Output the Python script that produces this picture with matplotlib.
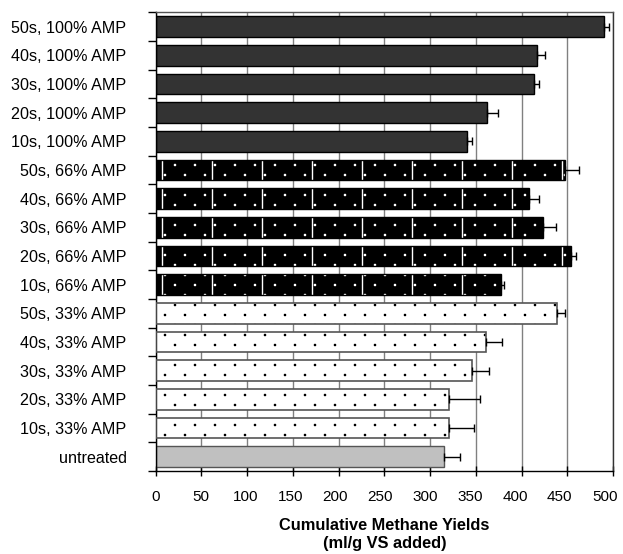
import numpy as np
import matplotlib
matplotlib.use("Agg")
import matplotlib.pyplot as plt
import matplotlib.hatch as mhatch
from matplotlib.path import Path
from matplotlib.transforms import ScaledTranslation

plt.rcParams['font.family'] = ['Liberation Sans', 'DejaVu Sans']
plt.rcParams['hatch.linewidth'] = 1.0

# treatments, top to bottom
labels = ["50s, 100% AMP", "40s, 100% AMP", "30s, 100% AMP", "20s, 100% AMP", "10s, 100% AMP",
          "50s, 66% AMP", "40s, 66% AMP", "30s, 66% AMP", "20s, 66% AMP", "10s, 66% AMP",
          "50s, 33% AMP", "40s, 33% AMP", "30s, 33% AMP", "20s, 33% AMP", "10s, 33% AMP",
          "untreated"]
amp100 = [490, 417, 414, 362, 340]
amp100_err = [6, 9, 5, 12, 6]
amp66 = [448, 408, 423, 454, 378]
amp66_err = [15, 11, 15, 6, 3]
amp33 = [439, 361, 346, 321, 321]
amp33_err = [9, 18, 18, 34, 27]
untreated = [315]
untreated_err = [18]

xticks = np.arange(0, 501, 50)


class SparseDots(mhatch.HatchPatternBase):
    # staggered small dots, 5 per row and 10 rows per hatch cell
    cols = 5
    rows = 10
    radius = 0.006

    def __init__(self, hatch, density):
        circ = Path.unit_circle()
        self.verts = circ.vertices
        self.vcodes = circ.codes
        self.n = hatch.count('.')
        self.num_vertices = self.n * self.cols * self.rows * len(self.verts)

    def set_vertices_and_codes(self, vertices, codes):
        vparts = []
        cparts = []
        for r in range(self.rows):
            y = (r + 0.5) / self.rows
            for c in range(self.cols):
                x = (c + 0.25 + 0.5 * (r % 2)) / self.cols
                vparts.append(self.verts * self.radius + [x, y])
                cparts.append(self.vcodes)
        np.concatenate(vparts, out=vertices)
        np.concatenate(cparts, out=codes)


class WideVertical(mhatch.HatchPatternBase):
    # two vertical lines per hatch cell
    def __init__(self, hatch, density):
        self.n = hatch.count('|')
        self.num_vertices = self.n * 2 * 2

    def set_vertices_and_codes(self, vertices, codes):
        xs = [0.125, 0.625]
        for i, x in enumerate(xs):
            vertices[2 * i] = [x, 0.0]
            vertices[2 * i + 1] = [x, 1.0]
            codes[2 * i] = Path.MOVETO
            codes[2 * i + 1] = Path.LINETO


mhatch._hatch_types = [SparseDots, WideVertical]

fig = plt.figure(figsize=(6.23, 5.54), dpi=100)
ax = fig.add_axes([0.250, 0.150, 0.734, 0.828])

pos = np.arange(len(labels))
h = 0.72
p100 = pos[0:5]
p66 = pos[5:10]
p33 = pos[10:15]
pu = pos[15:16]

ax.set_axisbelow(True)
ax.xaxis.grid(True, color='#808080', lw=1.0)

# 100% amplitude: solid dark grey
ax.barh(p100, amp100, height=h, color='#333333', edgecolor='black', lw=1.0, zorder=2)
# 66% amplitude: black with white dots and white vertical strokes
ax.barh(p66, amp66, height=h, color='black', edgecolor='white', hatch='.|', lw=0, zorder=2)
ax.barh(p66, amp66, height=h, fill=False, edgecolor='black', lw=1.0, zorder=3)
# 33% amplitude: white with black dots
ax.barh(p33, amp33, height=h, color='white', edgecolor='black', hatch='.', lw=0, zorder=2)
ax.barh(p33, amp33, height=h, fill=False, edgecolor='#555555', lw=1.2, zorder=3)
# untreated control
ax.barh(pu, untreated, height=h, color='#c0c0c0', edgecolor='#555555', lw=1.0, zorder=2)

vals = amp100 + amp66 + amp33 + untreated
errs = amp100_err + amp66_err + amp33_err + untreated_err
ax.errorbar(vals, pos, xerr=[np.zeros(len(errs)), errs], fmt='none',
            ecolor='black', elinewidth=1.0, capsize=3, capthick=1.0, zorder=4)

ax.set_xlim(0, 500)
ax.set_ylim(len(labels) - 0.5, -0.5)
ax.set_xticks(xticks)
ax.set_yticks(pos)
ax.set_yticklabels(labels)
ax.set_yticks(np.arange(-0.5, len(labels), 1.0), minor=True)
ax.tick_params(axis='y', which='major', length=0, pad=21, labelsize=11.6)
ax.tick_params(axis='y', which='minor', length=6, width=1.0, direction='out')
ax.tick_params(axis='x', length=7, width=1.0, direction='inout', pad=10, labelsize=11)

# value labels drift slightly left of their ticks toward the right end
for v, t in zip(xticks, ax.get_xticklabels()):
    t.set_transform(t.get_transform() + ScaledTranslation(-6 * v / 500 / 72, 0, fig.dpi_scale_trans))

for s in ax.spines.values():
    s.set_linewidth(1.0)
ax.spines['right'].set_color('#333333')
ax.spines['top'].set_color('#555555')

ax.set_xlabel("Cumulative Methane Yields\n(ml/g VS added)", fontsize=11.8,
              fontweight='bold', labelpad=10, linespacing=1.3)

fig.savefig("out.png", dpi=100)
